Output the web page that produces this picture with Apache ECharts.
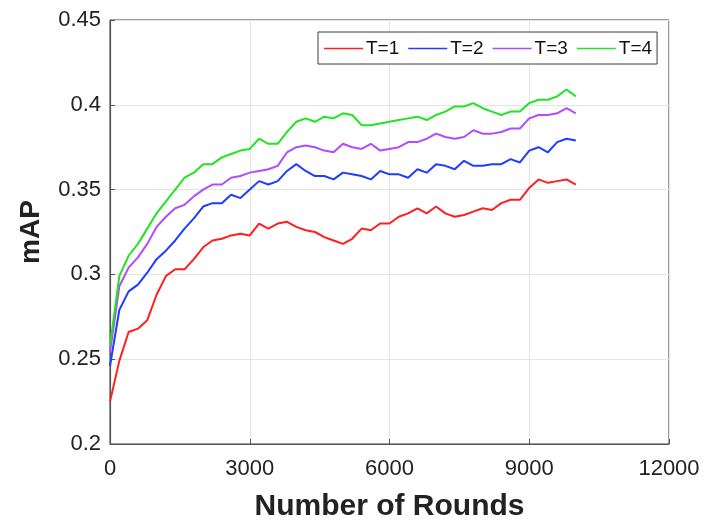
<!DOCTYPE html>
<html>
<head>
<meta charset="utf-8">
<script src="https://cdn.jsdelivr.net/npm/echarts@6/dist/echarts.min.js"></script>
<style>
html,body{margin:0;padding:0;background:#fff;}
#chart{width:706px;height:521px;}
</style>
</head>
<body>
<div id="chart"></div>
<script>
const rounds = [0,200,400,600,800,1000,1200,1400,1600,1800,2000,2200,2400,2600,2800,3000,3200,3400,3600,3800,4000,4200,4400,4600,4800,5000,5200,5400,5600,5800,6000,6200,6400,6600,6800,7000,7200,7400,7600,7800,8000,8200,8400,8600,8800,9000,9200,9400,9600,9800,10000];

const t1 = [0.225,0.249,0.266,0.268,0.273,0.288,0.299,0.303,0.303,0.309,0.316,0.320,0.321,0.323,0.324,0.323,0.330,0.327,0.330,0.331,0.328,0.326,0.325,0.322,0.320,0.318,0.321,0.327,0.326,0.330,0.330,0.334,0.336,0.339,0.336,0.340,0.336,0.334,0.335,0.337,0.339,0.338,0.342,0.344,0.344,0.351,0.356,0.354,0.355,0.356,0.353];
const t2 = [0.246,0.279,0.290,0.294,0.301,0.309,0.314,0.320,0.327,0.333,0.340,0.342,0.342,0.347,0.345,0.350,0.355,0.353,0.355,0.361,0.365,0.361,0.358,0.358,0.356,0.360,0.359,0.358,0.356,0.361,0.359,0.359,0.357,0.362,0.360,0.365,0.364,0.362,0.367,0.364,0.364,0.365,0.365,0.368,0.366,0.373,0.375,0.372,0.378,0.380,0.379];
const t3 = [0.254,0.293,0.304,0.310,0.318,0.328,0.334,0.339,0.341,0.346,0.350,0.353,0.353,0.357,0.358,0.360,0.361,0.362,0.364,0.372,0.375,0.376,0.375,0.373,0.372,0.377,0.375,0.374,0.377,0.373,0.374,0.375,0.378,0.378,0.380,0.383,0.381,0.380,0.381,0.385,0.383,0.383,0.384,0.386,0.386,0.392,0.394,0.394,0.395,0.398,0.395];
const t4 = [0.258,0.299,0.311,0.318,0.327,0.336,0.343,0.350,0.357,0.360,0.365,0.365,0.369,0.371,0.373,0.374,0.380,0.377,0.377,0.384,0.390,0.392,0.390,0.393,0.392,0.395,0.394,0.388,0.388,0.389,0.390,0.391,0.392,0.393,0.391,0.394,0.396,0.399,0.399,0.401,0.398,0.396,0.394,0.396,0.396,0.401,0.403,0.403,0.405,0.409,0.405];

const seriesNames = ['T=1','T=2','T=3','T=4'];
const seriesColors = ['#ff1f1f','#1f3cff','#b04cff','#22e422'];
const seriesValues = [t1,t2,t3,t4];

const xTicks = {min:0, max:12000, interval:3000};
const yTicks = {min:0.2, max:0.45, interval:0.05};

const chart = echarts.init(document.getElementById('chart'), null, {renderer:'canvas'});
const font = 'Liberation Sans, Arial, Helvetica, sans-serif';

const option = {
  animation:false,
  backgroundColor:'#ffffff',
  grid:{left:110, right:37, top:20, bottom:77, outerBoundsMode:'none', containLabel:false,
        show:true, borderColor:'#3a3a3a', borderWidth:1, backgroundColor:'transparent'},
  legend:{
    left:318, top:32,
    padding:[7,5,6,6],
    borderColor:'#3a3a3a', borderWidth:1, backgroundColor:'#fff',
    icon:'rect', itemWidth:39, itemHeight:1.6, itemGap:9,
    textStyle:{fontFamily:font, fontSize:19, color:'#111', padding:[0,0,0,-2]},
    data:seriesNames
  },
  xAxis:{
    type:'value', min:xTicks.min, max:xTicks.max, interval:xTicks.interval,
    name:'Number of Rounds', nameLocation:'middle', nameGap:48,
    nameTextStyle:{fontFamily:font, fontSize:30, fontWeight:'bold', color:'#222'},
    axisLine:{show:true, lineStyle:{color:'#555', width:1.2}},
    axisTick:{show:true, inside:true, length:5, lineStyle:{color:'#555'}},
    axisLabel:{fontFamily:font, fontSize:22, color:'#222', margin:14, formatter:(v)=>String(v)},
    splitLine:{show:true, lineStyle:{color:'#e4e4e4', width:1}}
  },
  yAxis:{
    type:'value', min:yTicks.min, max:yTicks.max, interval:yTicks.interval,
    name:'mAP', nameLocation:'middle', nameGap:65, nameRotate:90,
    nameTextStyle:{fontFamily:font, fontSize:28, fontWeight:'bold', color:'#222'},
    axisLine:{show:true, lineStyle:{color:'#555', width:1.2}},
    axisTick:{show:true, inside:true, length:5, lineStyle:{color:'#555'}},
    axisLabel:{fontFamily:font, fontSize:22, color:'#222', margin:9},
    splitLine:{show:true, lineStyle:{color:'#e4e4e4', width:1}}
  },
  series: seriesNames.map((n,i)=>({
    name:n, type:'line',
    data: rounds.map((r,j)=>[r, seriesValues[i][j]]),
    showSymbol:false, symbol:'none',
    lineStyle:{color:seriesColors[i], width:2},
    itemStyle:{color:seriesColors[i]},
    z:2+i
  }))
};
chart.setOption(option);
</script>
</body>
</html>
